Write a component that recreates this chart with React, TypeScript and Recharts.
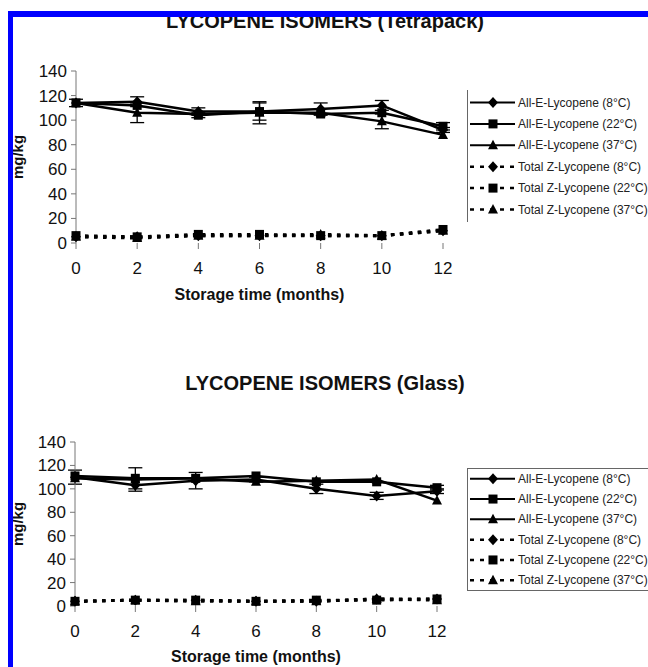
import React from 'react';
import { LineChart, Line, XAxis, YAxis, Legend, ErrorBar } from 'recharts';

const FONT = '"Liberation Sans", Arial, Helvetica, sans-serif';

const months = [0, 2, 4, 6, 8, 10, 12];
const yTicks = [0, 20, 40, 60, 80, 100, 120, 140];

const names = {
  e8: 'All-E-Lycopene (8°C)',
  e22: 'All-E-Lycopene (22°C)',
  e37: 'All-E-Lycopene (37°C)',
  z8: 'Total Z-Lycopene (8°C)',
  z22: 'Total Z-Lycopene (22°C)',
  z37: 'Total Z-Lycopene (37°C)',
};

// Tetrapack (mg/kg)
const tetraE8 = [114, 115, 107, 107, 109, 112, 92];
const tetraE22 = [114, 112, 104, 107, 105, 106, 95];
const tetraE37 = [114, 106, 105, 106, 106, 99, 88];
const tetraZ8 = [5, 5, 6, 6, 6, 6, 10];
const tetraZ22 = [6, 5, 7, 7, 6, 6, 11];
const tetraZ37 = [5, 4, 6, 6, 7, 6, 10];
const tetraE8Err = [0, 4, 3, 7, 5, 4, 2];
const tetraE22Err = [3, 0, 2, 0, 0, 0, 3];
const tetraE37Err = [0, 8, 0, 9, 0, 6, 0];

// Glass (mg/kg)
const glassE8 = [110, 103, 107, 108, 100, 94, 98];
const glassE22 = [111, 109, 109, 111, 106, 106, 101];
const glassE37 = [109, 108, 109, 106, 107, 108, 90];
const glassZ8 = [4, 5, 5, 4, 4, 6, 6];
const glassZ22 = [4, 5, 5, 4, 5, 5, 6];
const glassZ37 = [4, 5, 4, 4, 4, 6, 5];
const glassE8Err = [6, 5, 7, 2, 4, 3, 2];
const glassE22Err = [0, 9, 0, 0, 0, 0, 2];
const glassE37Err = [0, 0, 0, 0, 0, 0, 0];

const buildData = (e8, e22, e37, z8, z22, z37, e8Err, e22Err, e37Err) =>
  months.map((m, i) => ({
    month: m,
    e8: e8[i], e22: e22[i], e37: e37[i],
    z8: z8[i], z22: z22[i], z37: z37[i],
    e8Err: e8Err[i], e22Err: e22Err[i], e37Err: e37Err[i],
  }));

const tetraData = buildData(tetraE8, tetraE22, tetraE37, tetraZ8, tetraZ22, tetraZ37, tetraE8Err, tetraE22Err, tetraE37Err);
const glassData = buildData(glassE8, glassE22, glassE37, glassZ8, glassZ22, glassZ37, glassE8Err, glassE22Err, glassE37Err);

const series = [
  { key: 'e8', shape: 'diamond', dashed: false, err: 'e8Err' },
  { key: 'e22', shape: 'square', dashed: false, err: 'e22Err' },
  { key: 'e37', shape: 'triangle', dashed: false, err: 'e37Err' },
  { key: 'z8', shape: 'diamond', dashed: true },
  { key: 'z22', shape: 'square', dashed: true },
  { key: 'z37', shape: 'triangle', dashed: true },
];

function Marker({ shape, cx, cy }: any) {
  if (shape === 'square') return <rect x={cx - 4.5} y={cy - 4.5} width={9} height={9} fill="#000" />;
  if (shape === 'triangle')
    return <polygon points={`${cx},${cy - 5.5} ${cx + 5},${cy + 4} ${cx - 5},${cy + 4}`} fill="#000" />;
  return <polygon points={`${cx},${cy - 5.5} ${cx + 5},${cy} ${cx},${cy + 5.5} ${cx - 5},${cy}`} fill="#000" />;
}

const dotFor = (shape) => (p: any) => (
  <g key={`${shape}-${p.index}`}>
    {p.cx != null && p.cy != null && <Marker shape={shape} cx={p.cx} cy={p.cy} />}
  </g>
);

// legend drawn in series order (recharts would sort it by name)
function LegendBox({ rowH, boxH, boxed }: any) {
  const pad = (boxH - rowH * series.length) / 2;
  return (
    <svg width={190} height={boxH} style={{ display: 'block', overflow: 'visible' }}>
      <line x1={0.5} y1={0} x2={0.5} y2={boxH} stroke="#666" />
      {boxed && <line x1={0} y1={0.5} x2={190} y2={0.5} stroke="#666" />}
      {boxed && <line x1={0} y1={boxH - 0.5} x2={190} y2={boxH - 0.5} stroke="#666" />}
      {series.map((s, i) => {
        const y = pad + rowH * (i + 0.5);
        return (
          <g key={s.key}>
            <line
              x1={3}
              y1={y}
              x2={48}
              y2={y}
              stroke="#000"
              strokeWidth={s.dashed ? 2.5 : 2}
              strokeDasharray={s.dashed ? '4 6' : undefined}
            />
            <Marker shape={s.shape} cx={26} cy={y} />
            <text x={51} y={y + 4} fontSize={12} fill="#222" fontFamily={FONT}>
              {names[s.key]}
            </text>
          </g>
        );
      })}
    </svg>
  );
}

function Panel({ data, top, height, marginTop, xAxisHeight, yAxisWidth, marginRight, legendTop, rowH, boxH, boxed, xLabelOffset }: any) {
  const tickStyle = { fontSize: 17, fill: '#111', fontFamily: FONT };
  return (
    <div style={{ position: 'absolute', left: 0, top }}>
      <LineChart
        width={648}
        height={height}
        data={data}
        margin={{ top: marginTop, right: marginRight, bottom: 0, left: 0 }}
      >
        <XAxis
          dataKey="month"
          type="number"
          domain={[0, 12]}
          ticks={months}
          interval={0}
          height={xAxisHeight}
          axisLine={false}
          tickLine={{ stroke: '#777' }}
          tickSize={6}
          tickMargin={13}
          tick={tickStyle}
          label={(p: any) => {
            const vb = p.viewBox || {};
            return (
              <text
                x={vb.x + vb.width / 2}
                y={vb.y + xLabelOffset}
                textAnchor="middle"
                fontSize={16}
                fontWeight="bold"
                fill="#111"
                fontFamily={FONT}
              >
                Storage time (months)
              </text>
            );
          }}
        />
        <YAxis
          type="number"
          domain={[0, 140]}
          ticks={yTicks}
          interval={0}
          width={yAxisWidth}
          axisLine={{ stroke: '#777' }}
          tickLine={{ stroke: '#777' }}
          tickSize={5}
          tickMargin={4}
          tick={tickStyle}
          label={(p: any) => {
            const vb = p.viewBox || {};
            const cy = vb.y + vb.height / 2;
            return (
              <text
                x={23}
                y={cy}
                transform={`rotate(-90, 23, ${cy})`}
                textAnchor="middle"
                fontSize={15}
                fontWeight="bold"
                fill="#111"
                fontFamily={FONT}
              >
                mg/kg
              </text>
            );
          }}
        />
        <Legend
          layout="vertical"
          align="center"
          verticalAlign="middle"
          wrapperStyle={{ left: 467, top: legendTop - top, width: 190, height: boxH }}
          content={() => <LegendBox rowH={rowH} boxH={boxH} boxed={boxed} />}
        />
        {series.map((s) => (
          <Line
            key={s.key}
            dataKey={s.key}
            name={names[s.key]}
            type="linear"
            stroke="#000"
            strokeWidth={s.dashed ? 3 : 2.5}
            strokeDasharray={s.dashed ? '3.5 5.5' : undefined}
            dot={dotFor(s.shape)}
            activeDot={false}
            isAnimationActive={false}
          >
            {s.err && (
              <ErrorBar dataKey={s.err} width={7} stroke="#000" strokeWidth={1.3} direction="y" isAnimationActive={false} />
            )}
          </Line>
        ))}
      </LineChart>
    </div>
  );
}

const titleStyle: React.CSSProperties = {
  position: 'absolute',
  left: 0,
  width: 650,
  textAlign: 'center',
  fontFamily: FONT,
  fontWeight: 'bold',
  fontSize: 20,
  lineHeight: '20px',
  color: '#111',
};

export default function App() {
  return (
    <div style={{ position: 'absolute', left: 0, top: 0, width: 648, height: 667, overflow: 'hidden', background: '#fff' }}>
      <div style={{ ...titleStyle, top: 11 }}>LYCOPENE ISOMERS (Tetrapack)</div>
      <Panel
        data={tetraData}
        top={60}
        height={250}
        marginTop={11}
        xAxisHeight={67}
        yAxisWidth={76}
        marginRight={205}
        legendTop={90}
        rowH={21.4}
        boxH={132}
        boxed={false}
        xLabelOffset={57}
      />
      <div style={{ ...titleStyle, top: 373 }}>LYCOPENE ISOMERS (Glass)</div>
      <Panel
        data={glassData}
        top={430}
        height={237}
        marginTop={12}
        xAxisHeight={61}
        yAxisWidth={75}
        marginRight={211}
        legendTop={468}
        rowH={20.3}
        boxH={123}
        boxed={true}
        xLabelOffset={56}
      />
      <div
        style={{
          position: 'absolute',
          left: 8,
          top: 11,
          width: 660,
          height: 680,
          borderLeft: '5px solid #0000ff',
          borderTop: '6px solid #0000ff',
          pointerEvents: 'none',
        }}
      />
    </div>
  );
}
